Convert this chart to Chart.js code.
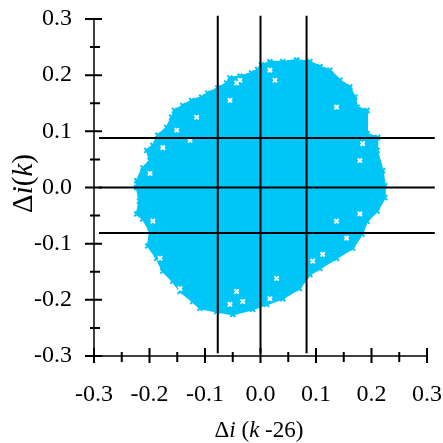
<!DOCTYPE html>
<html>
<head>
<meta charset="utf-8">
<script src="https://cdn.jsdelivr.net/npm/chart.js@4.4.0/dist/chart.umd.min.js"></script>
<style>
  html, body { margin: 0; padding: 0; background: #fff; }
  #wrap { width: 443px; height: 443px; }
</style>
</head>
<body>
<div id="wrap"><canvas id="scatter"></canvas></div>
<script>
// outline of the Δi(k) / Δi(k-26) point cloud, clockwise from the top
const cloudX = [0.002, 0.017, 0.040, 0.065, 0.089, 0.107, 0.125, 0.143, 0.161, 0.170, 0.174, 0.192,
  0.192, 0.211, 0.210, 0.220, 0.224, 0.224, 0.210, 0.192, 0.183, 0.166, 0.137, 0.107, 0.089, 0.070,
  0.040, 0.011, -0.014, -0.050, -0.079, -0.109, -0.122, -0.145, -0.158, -0.176, -0.187, -0.203,
  -0.199, -0.212, -0.223, -0.218, -0.223, -0.223, -0.212, -0.199, -0.205, -0.194, -0.185, -0.169,
  -0.160, -0.155, -0.140, -0.124, -0.106, -0.095, -0.077, -0.061, -0.055, -0.037, -0.016, -0.005];
const cloudY = [0.218, 0.224, 0.224, 0.227, 0.224, 0.215, 0.209, 0.191, 0.179, 0.161, 0.143, 0.137,
  0.096, 0.089, 0.066, 0.030, 0.003, -0.018, -0.042, -0.060, -0.083, -0.108, -0.126, -0.144, -0.155, -0.180,
  -0.198, -0.208, -0.217, -0.226, -0.221, -0.215, -0.203, -0.185, -0.167, -0.149, -0.126, -0.104,
  -0.078, -0.056, -0.047, -0.024, 0.000, 0.012, 0.035, 0.048, 0.066, 0.075, 0.093, 0.107,
  0.125, 0.137, 0.146, 0.155, 0.161, 0.168, 0.177, 0.186, 0.195, 0.198, 0.204, 0.210];

// sparse spots inside the cloud where no samples landed
const gapX = [-0.115, -0.127, -0.151, -0.055, -0.043, -0.176, -0.199, 0.017, 0.026, -0.037, 0.137, 0.184, 0.179,
  0.179, 0.137, 0.112, 0.094, 0.029, 0.017, 0.155, -0.194, -0.181, -0.145, -0.043, -0.032, -0.055];
const gapY = [0.125, 0.084, 0.102, 0.155, 0.186, 0.071, 0.025, 0.209, 0.191, 0.191, 0.143, 0.078, 0.048,
  -0.047, -0.060, -0.119, -0.131, -0.162, -0.198, -0.090, -0.060, -0.126, -0.180, -0.185, -0.203, -0.208];

// threshold lines
const vLineX = [-0.077, 0, 0.083];
const vLineSpan = [-0.295, 0.306];
const hLineY = [0.088, 0, -0.081];
const hLineSpan = [-0.291, 0.314];

// axis ticks
const majorTicks = [-0.3, -0.2, -0.1, 0, 0.1, 0.2, 0.3];
const minorTicks = [-0.25, -0.15, -0.05, 0.05, 0.15, 0.25];
const tickLabels = ['-0.3', '-0.2', '-0.1', '0.0', '0.1', '0.2', '0.3'];

const CYAN = '#00C5F7';
const SERIF = '"Liberation Serif", "Times New Roman", serif';

const cloudPts = cloudX.map((x, i) => ({ x, y: cloudY[i] }));
cloudPts.push(cloudPts[0]);
const gapPts = gapX.map((x, i) => ({ x, y: gapY[i] }));

const lineSets = [];
vLineX.forEach((x) => lineSets.push({
  type: 'line',
  data: [{ x, y: vLineSpan[0] }, { x, y: vLineSpan[1] }],
  borderColor: '#000', borderWidth: 2, pointRadius: 0, clip: false, order: 0,
}));
hLineY.forEach((y) => lineSets.push({
  type: 'line',
  data: [{ x: hLineSpan[0], y }, { x: hLineSpan[1], y }],
  borderColor: '#000', borderWidth: 2, pointRadius: 0, clip: false, order: 0,
}));

// draw a run of [text, italic] pieces centred on cx
function drawRuns(ctx, runs, size, cx, y) {
  const fonts = runs.map(([, it]) => (it ? 'italic ' : '') + size + 'px ' + SERIF);
  let total = 0;
  const widths = runs.map(([t], i) => { ctx.font = fonts[i]; const w = ctx.measureText(t).width; total += w; return w; });
  let x = cx - total / 2;
  runs.forEach(([t], i) => {
    ctx.font = fonts[i];
    ctx.fillText(t, x, y);
    x += widths[i];
  });
}

const axesFrame = {
  id: 'axesFrame',
  afterDraw(chart) {
    const { ctx, scales: { x: xs, y: ys } } = chart;
    const left = xs.left, bottom = ys.bottom;
    ctx.save();
    ctx.strokeStyle = '#000';
    ctx.lineWidth = 1.5;
    ctx.beginPath();
    ctx.moveTo(left, ys.getPixelForValue(0.3));
    ctx.lineTo(left, bottom);
    ctx.lineTo(xs.getPixelForValue(0.3), bottom);
    ctx.stroke();

    ctx.lineWidth = 2;
    ctx.beginPath();
    majorTicks.forEach((v) => {
      const py = ys.getPixelForValue(v);
      ctx.moveTo(left - 9, py); ctx.lineTo(left + 8, py);
      const px = xs.getPixelForValue(v);
      ctx.moveTo(px, bottom - 8); ctx.lineTo(px, bottom + 7);
    });
    minorTicks.forEach((v) => {
      const py = ys.getPixelForValue(v);
      ctx.moveTo(left - 4, py); ctx.lineTo(left + 6, py);
      const px = xs.getPixelForValue(v);
      ctx.moveTo(px, bottom - 4); ctx.lineTo(px, bottom + 6);
    });
    ctx.stroke();

    ctx.fillStyle = '#000';
    ctx.font = '24px ' + SERIF;
    ctx.textBaseline = 'middle';
    ctx.textAlign = 'right';
    majorTicks.forEach((v, i) => ctx.fillText(tickLabels[i], 72, ys.getPixelForValue(v)));
    ctx.textAlign = 'center';
    majorTicks.forEach((v, i) => ctx.fillText(tickLabels[i], xs.getPixelForValue(v), 395));

    ctx.textAlign = 'left';
    ctx.textBaseline = 'alphabetic';
    drawRuns(ctx, [['Δ', false], ['i', true], [' (', false], ['k', true], [' -26)', false]], 23, 259, 437);

    ctx.translate(32, 183.5);
    ctx.rotate(-Math.PI / 2);
    drawRuns(ctx, [['Δ', false], ['i', true], ['(', false], ['k', true], [')', false]], 29, 0, 0);
    ctx.restore();
  },
};

const fitTo = (size) => (scale) => {
  if (scale.isHorizontal()) scale.height = size; else scale.width = size;
};

new Chart(document.getElementById('scatter'), {
  type: 'scatter',
  data: {
    datasets: [
      ...lineSets,
      {
        data: gapPts,
        pointStyle: 'crossRot',
        pointRadius: 3,
        pointBorderWidth: 2,
        pointBorderColor: '#fff',
        pointBackgroundColor: '#fff',
        order: 1,
      },
      {
        type: 'line',
        data: cloudPts,
        borderColor: CYAN,
        backgroundColor: CYAN,
        borderWidth: 2,
        fill: 'shape',
        pointStyle: 'crossRot',
        pointRadius: 3.5,
        pointBorderWidth: 2,
        pointBorderColor: CYAN,
        order: 2,
      },
    ],
  },
  options: {
    responsive: true,
    maintainAspectRatio: false,
    animation: false,
    layout: { padding: { top: 19, right: 16, left: 0, bottom: 0 } },
    scales: {
      x: {
        type: 'linear', min: -0.3, max: 0.3,
        grid: { display: false, drawTicks: false },
        border: { display: false },
        ticks: { display: false },
        afterFit: fitTo(87),
      },
      y: {
        type: 'linear', min: -0.3, max: 0.3,
        grid: { display: false, drawTicks: false },
        border: { display: false },
        ticks: { display: false },
        afterFit: fitTo(94),
      },
    },
    plugins: { legend: { display: false }, tooltip: { enabled: false } },
  },
  plugins: [axesFrame],
});
</script>
</body>
</html>
